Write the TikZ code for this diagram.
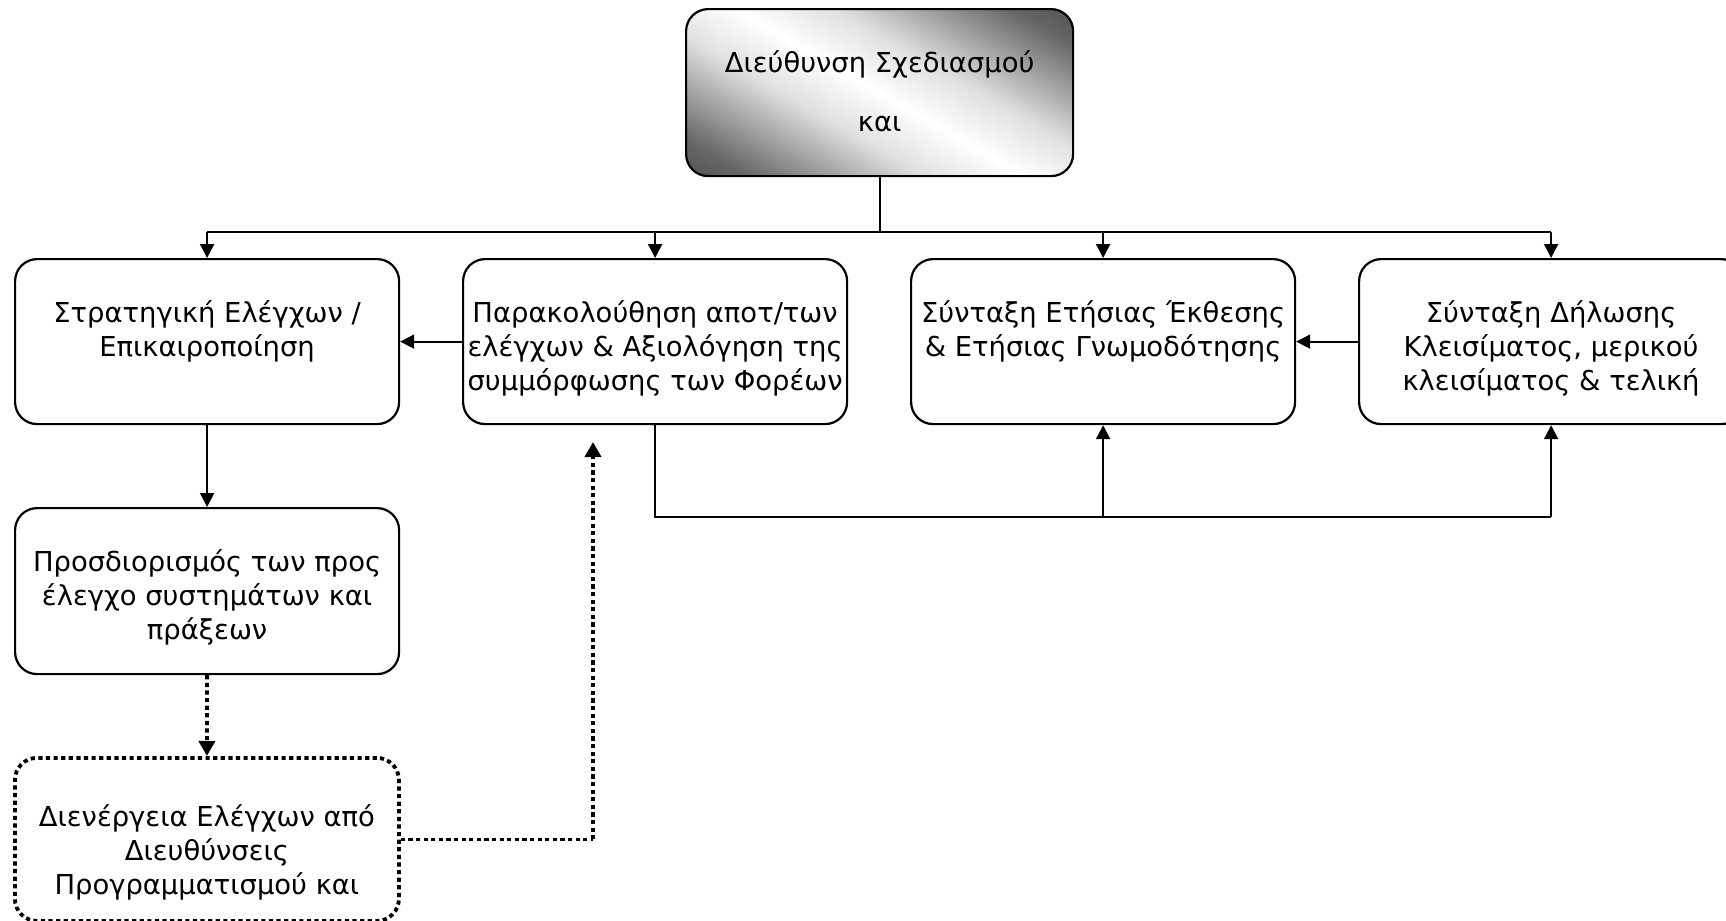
\documentclass[tikz,border=0pt]{standalone}
\usepackage{fontspec}
\setmainfont{DejaVu Sans}
\usetikzlibrary{arrows.meta}
\pgfdeclareverticalshading{topshade}{100bp}{color(0bp)=(black!85); color(22bp)=(black!60); color(40bp)=(black!12); color(50bp)=(white); color(60bp)=(black!12); color(78bp)=(black!60); color(100bp)=(black!85)}
\newcommand\bxt[3]{\parbox[c][#1][t]{192pt}{\centering\rule{0pt}{#2}#3\par}}
\tikzset{
  x=0.5pt, y=-0.5pt,
  box/.style={draw, line width=1.1pt, rounded corners=11pt, inner sep=0pt, anchor=north west,
    font=\fontsize{13.7}{17}\selectfont},
  dotbox/.style={box, line width=1.9pt, dash pattern=on 2.1pt off 1.7pt},
  conn/.style={line width=1pt},
  arr/.style={conn, -{Triangle[length=7pt,width=7pt]}},
  dotarr/.style={line width=1.9pt, dash pattern=on 2.1pt off 1.7pt, -{Triangle[length=7.5pt,width=8pt]}},
  dotline/.style={line width=1.9pt, dash pattern=on 2.1pt off 1.7pt}
}
\begin{document}
\begin{tikzpicture}
\useasboundingbox (0,0) rectangle (1726,921);
\node[box, shading=topshade, shading angle=-30,
  font=\fontsize{13.7}{29.5}\selectfont] (top) at (685,8)
  {\parbox[c][83.5pt][t]{193.5pt}{\centering\rule{0pt}{31.5pt}Διεύθυνση Σχεδιασμού\\και\par}};
\node[box] (strat) at (14,258) {\bxt{82.5pt}{31.5pt}{Στρατηγική Ελέγχων /\\Επικαιροποίηση}};
\node[box] (prosd) at (14,507) {\bxt{83pt}{31.5pt}{Προσδιορισμός των προς\\έλεγχο συστημάτων και\\πράξεων}};
\node[dotbox] (dien) at (13,756) {\bxt{81.5pt}{34.5pt}{Διενέργεια Ελέγχων από\\Διευθύνσεις\\Προγραμματισμού και}};
\node[box] (parak) at (462,258) {\bxt{82.5pt}{31.5pt}{Παρακολούθηση αποτ/των\\ελέγχων \& Αξιολόγηση της\\συμμόρφωσης των Φορέων}};
\node[box] (etis) at (910,258) {\bxt{82.5pt}{31.5pt}{Σύνταξη Ετήσιας Έκθεσης\\\& Ετήσιας Γνωμοδότησης}};
\node[box] (dil) at (1358,258) {\bxt{82.5pt}{31.5pt}{Σύνταξη Δήλωσης\\Κλεισίματος, μερικού\\κλεισίματος \& τελική}};

\coordinate (busy) at (0,232);
\coordinate (boty) at (0,517);
\coordinate (dotend) at (593,442);

\draw[conn] (top.south) -- (top.south |- busy);
\draw[conn] (strat.north |- busy) -- (dil.north |- busy);
\draw[arr] (strat.north |- busy) -- (strat.north);
\draw[arr] (parak.north |- busy) -- (parak.north);
\draw[arr] (etis.north |- busy) -- (etis.north);
\draw[arr] (dil.north |- busy) -- (dil.north);

\draw[arr] (parak.west) -- (strat.east);
\draw[arr] (dil.west) -- (etis.east);
\draw[arr] (strat.south) -- (prosd.north);

\draw[conn] (parak.south) -- (parak.south |- boty) -- (dil.south |- boty);
\draw[arr] (dil.south |- boty) -- (dil.south);
\draw[arr] (etis.south |- boty) -- (etis.south);

\draw[dotarr] (prosd.south) -- (dien.north);
\draw[dotline] (dien.east) -- (dien.east -| dotend);
\draw[dotarr] (dien.east -| dotend) -- (dotend);
\end{tikzpicture}
\end{document}
